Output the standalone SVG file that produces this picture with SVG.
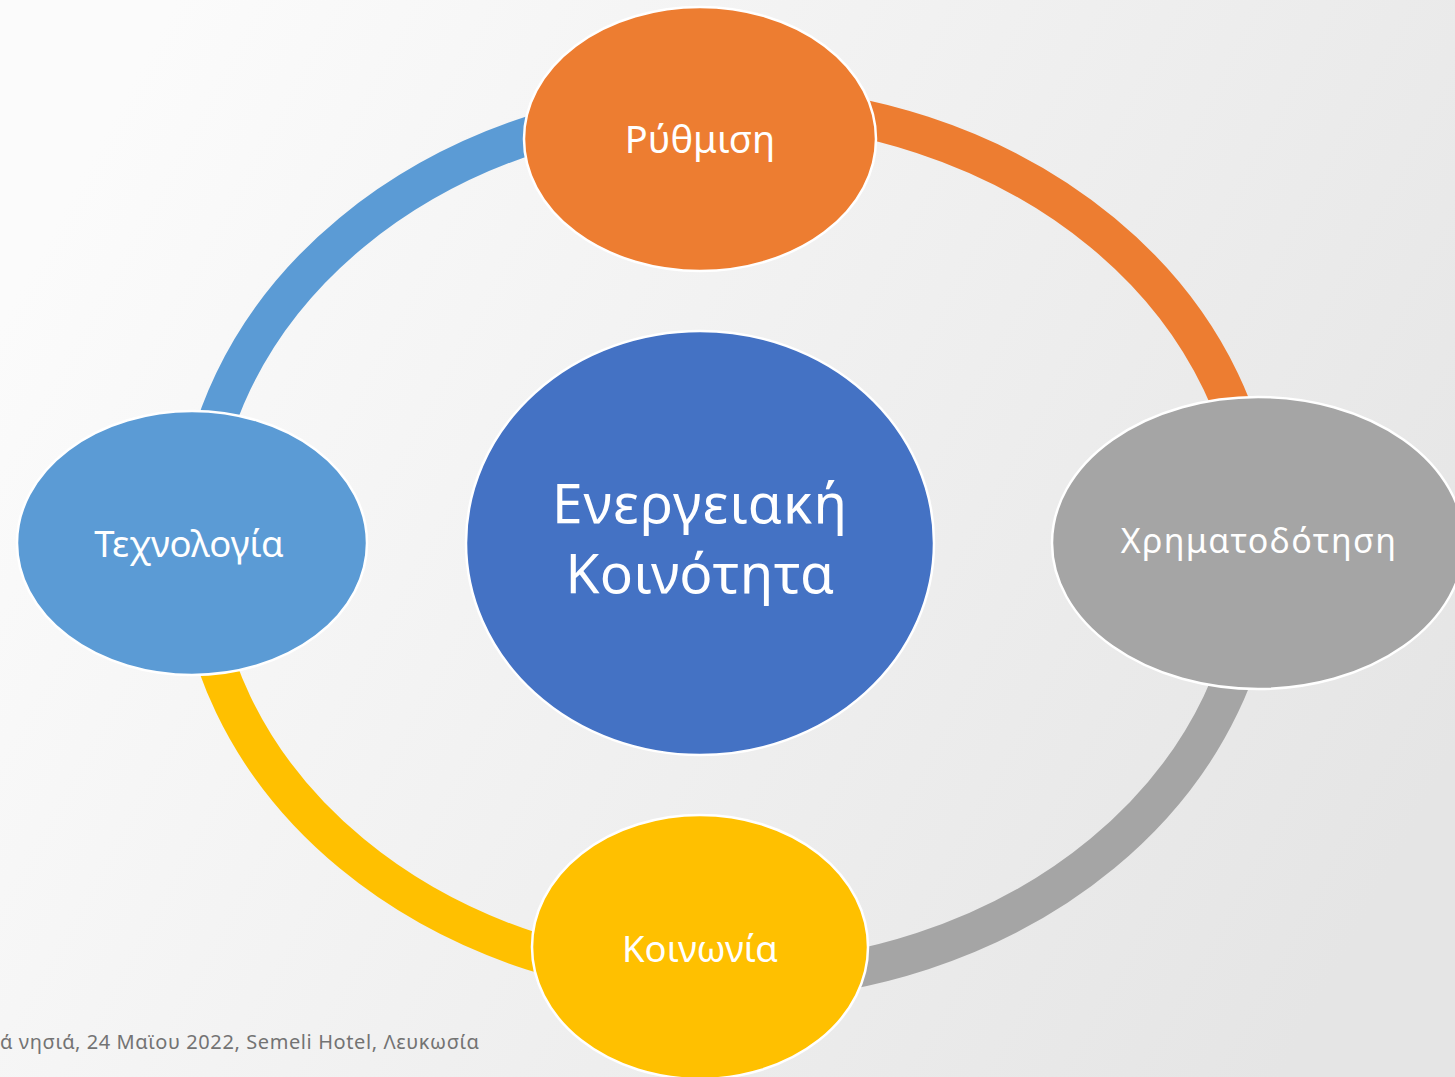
<svg xmlns="http://www.w3.org/2000/svg" width="1455" height="1077" viewBox="0 0 1455 1077">
<defs>
<linearGradient id="bg" x1="0" y1="0.3" x2="1" y2="0.7">
<stop offset="0" stop-color="#fbfbfb"/>
<stop offset="1" stop-color="#e5e5e5"/>
</linearGradient>
<style>
.node{stroke:#ffffff;stroke-width:2.5}
.lbl{font-family:"Noto Sans","Open Sans","DejaVu Sans",sans-serif;fill:#ffffff;text-anchor:middle}
.arc{fill:none;stroke-width:38;stroke-linecap:butt}
</style>
</defs>
<rect x="0" y="0" width="1455" height="1077" fill="url(#bg)"/>
<g id="connectors">
<path class="arc" stroke="#5B9BD5" d="M196,543 A531,439 0 0 1 727,104"/>
<path class="arc" stroke="#ED7D31" d="M727,104 A531,439 0 0 1 1258,543"/>
<path class="arc" stroke="#A5A5A5" d="M1258,543 A531,439 0 0 1 727,982"/>
<path class="arc" stroke="#FFC000" d="M727,982 A531,439 0 0 1 196,543"/>
</g>
<g id="node-center">
<ellipse class="node" cx="700" cy="543" rx="234" ry="212" fill="#4472C4"/>
<text class="lbl" x="700" y="523" font-size="55" letter-spacing="1.1">Ενεργειακή</text>
<text class="lbl" x="700" y="593" font-size="55" letter-spacing="0.4">Κοινότητα</text>
</g>
<g id="node-rythmisi">
<ellipse class="node" cx="700" cy="139" rx="176" ry="132" fill="#ED7D31"/>
<text class="lbl" x="700" y="153" font-size="38">Ρύθμιση</text>
</g>
<g id="node-chrimatodotisi">
<ellipse class="node" cx="1258" cy="543" rx="206" ry="146" fill="#A5A5A5"/>
<text class="lbl" x="1259" y="553" font-size="34" letter-spacing="1.4">Χρηματοδότηση</text>
</g>
<g id="node-koinonia">
<ellipse class="node" cx="700" cy="947" rx="168" ry="132" fill="#FFC000"/>
<text class="lbl" x="700" y="962" font-size="36.5">Κοινωνία</text>
</g>
<g id="node-technologia">
<ellipse class="node" cx="192" cy="543" rx="175" ry="132" fill="#5B9BD5"/>
<text class="lbl" x="189" y="557" font-size="36.5">Τεχνολογία</text>
</g>
<text x="0" y="1049" font-family="'Noto Sans','Open Sans',sans-serif" font-size="20" letter-spacing="0.6" fill="#737373">ά νησιά, 24 Μαϊου 2022, Semeli Hotel, Λευκωσία</text>
</svg>
